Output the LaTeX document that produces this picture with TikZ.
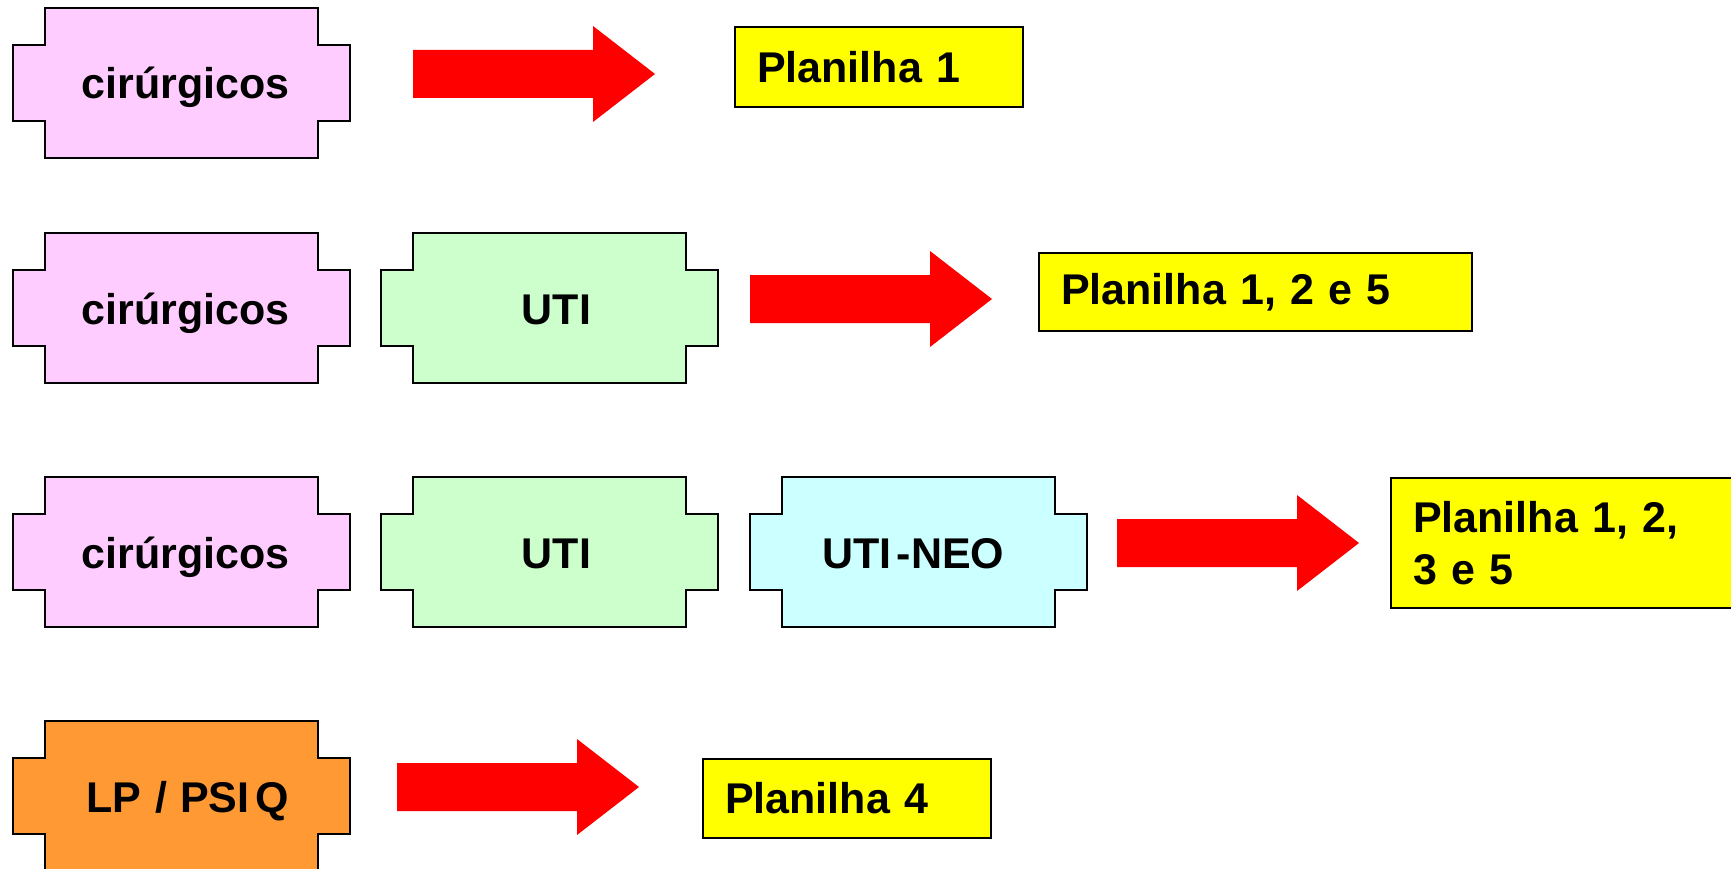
\documentclass[tikz,border=0pt]{standalone}
\usepackage{fontspec}
\setmainfont{Liberation Sans}
\definecolor{platepink}{HTML}{FFCCFF}
\definecolor{plategreen}{HTML}{CCFFCC}
\definecolor{platecyan}{HTML}{CCFFFF}
\definecolor{plateorange}{HTML}{FF9933}
\definecolor{sheetyellow}{HTML}{FFFF00}
\definecolor{arrowred}{HTML}{FF0000}
\tikzset{
  plate/.style={draw=black, line width=2pt, line join=miter},
  platelabel/.style={font=\fontsize{43}{52}\selectfont\bfseries, inner sep=0pt, anchor=base},
  sheet/.style={draw=black, line width=2pt, fill=sheetyellow, anchor=north west,
    align=left, inner xsep=22pt, inner ysep=0pt,
    font=\fontsize{43}{52}\selectfont\bfseries},
  blockarrow/.style={fill=arrowred}
}
% notched plate: name, fill, left, top, label shift, text
\newcommand\plateshape[6]{%
  \filldraw[plate, fill=#2] ({#3+32},#4) -- ++(273,0) -- ++(0,37) -- ++(32,0)
    -- ++(0,76) -- ++(-32,0) -- ++(0,37) -- ++(-273,0) -- ++(0,-37)
    -- ++(-32,0) -- ++(0,-76) -- ++(32,0) -- cycle;
  \node[platelabel] (#1) at ({#3+168.5+#5},{#4+91}) {#6};
}
% block arrow: shaft start, head base, centre line
\newcommand\redarrow[3]{%
  \fill[blockarrow] (#1,{#3-24}) -- (#2,{#3-24}) -- (#2,{#3-48}) -- ({#2+62},#3)
    -- (#2,{#3+48}) -- (#2,{#3+24}) -- (#1,{#3+24}) -- cycle;
}
\begin{document}
\begin{tikzpicture}[x=1pt, y=-1pt]
\useasboundingbox (0,0) rectangle (1731,869);
\clip (0,0) rectangle (1731,869);

% row 1
\plateshape{c1}{platepink}{13}{8}{4}{cirúrgicos}
\redarrow{413}{593}{74}
\node[sheet, minimum width=288pt, text width=244pt, minimum height=80pt] (p1) at (734,26) {Planilha 1};

% row 2
\plateshape{c2}{platepink}{13}{233}{4}{cirúrgicos}
\plateshape{u2}{plategreen}{381}{233}{7}{UTI}
\redarrow{750}{930}{299}
\node[sheet, minimum width=433pt, text width=389pt, minimum height=78pt] (p2) at (1038,252) {Planilha 1, 2 e 5};

% row 3
\plateshape{c3}{platepink}{13}{477}{4}{cirúrgicos}
\plateshape{u3}{plategreen}{381}{477}{7}{UTI}
\plateshape{n3}{platecyan}{750}{477}{-5}{UTI\hspace{5pt}-NEO}
\redarrow{1117}{1297}{543}
\node[sheet, minimum width=360pt, text width=316pt, minimum height=130pt] (p3) at (1390,477) {Planilha 1, 2,\\3 e 5};

% row 4
\plateshape{l4}{plateorange}{13}{721}{6}{LP\hspace{2pt} / \hspace{1pt}PSI\hspace{6pt}Q}
\redarrow{397}{577}{787}
\node[sheet, minimum width=288pt, text width=244pt, minimum height=79pt] (p4) at (702,758) {Planilha 4};
\end{tikzpicture}
\end{document}
